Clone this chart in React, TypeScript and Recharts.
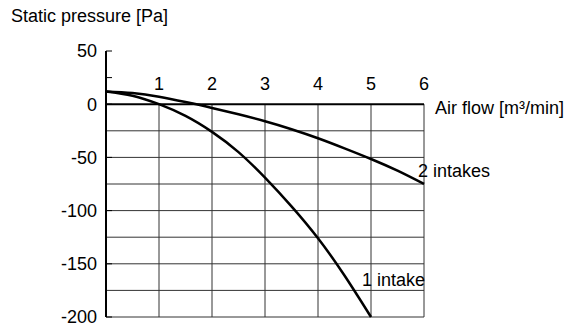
import React from 'react';
import { LineChart, Line, XAxis, YAxis, ReferenceLine, ReferenceDot } from 'recharts';

const xValues = [0, 0.5, 1, 1.5, 2, 2.5, 3, 3.5, 4, 4.5, 5, 5.5, 6];
const oneIntake = [12, 8, 0, -11, -26, -45, -69, -96, -126, -161, -200];
const twoIntakes = [12, 10.5, 7, 2, -3.5, -9.5, -16, -23.5, -32, -41.5, -51.5, -62.5, -75];
const xTicks = [1, 2, 3, 4, 5, 6];
const yTicks = [-200, -150, -100, -50, 0, 25, 50];
const yLabelTicks = [-200, -150, -100, -50, 0, 50];
const gridY = [-25, -50, -75, -100, -125, -150, -175, -200];
const xDomain = [0, 6];
const yDomain = [-200, 50];

const yTitle = 'Static pressure [Pa]';
const xTitle = 'Air flow [m³/min]';
const oneLabel = '1 intake';
const twoLabel = '2 intakes';

const FONT = "'Liberation Sans', Arial, Helvetica, sans-serif";
const FS = 18;
const GRID = '#333';

const data = xValues.map((x, i) => ({ x, one: oneIntake[i], two: twoIntakes[i] }));

export default function App() {
  const xMin = xDomain[0];
  const xMax = xDomain[1];
  const yMin = yDomain[0];
  return (
    <div style={{ position: 'absolute', left: 0, top: 0, width: 570, height: 324, background: '#fff' }}>
      <div style={{ position: 'absolute', left: 11, top: 6, fontFamily: FONT, fontSize: FS, color: '#000', whiteSpace: 'nowrap' }}>
        {yTitle}
      </div>
      <LineChart width={570} height={324} data={data} margin={{ top: 51, right: 146, bottom: 7, left: 0 }}>
        <XAxis dataKey="x" type="number" domain={xDomain} hide />
        <YAxis
          type="number"
          domain={yDomain}
          ticks={yTicks}
          interval={0}
          width={106}
          tickFormatter={(v: number) => (yLabelTicks.includes(v) ? String(v) : '')}
          tick={{ fill: '#000', fontSize: FS, fontFamily: FONT }}
          tickLine={{ stroke: '#000', strokeWidth: 1 }}
          tickSize={-6}
          tickMargin={15}
          axisLine={{ stroke: '#000', strokeWidth: 2 }}
        />
        {gridY.map((y) => (
          <ReferenceLine
            key={'h' + y}
            segment={[{ x: xMin, y }, { x: xMax, y }]}
            stroke={GRID}
            strokeWidth={1}
          />
        ))}
        {xTicks.map((x) => (
          <ReferenceLine
            key={'v' + x}
            segment={[{ x, y: 0 }, { x, y: yMin }]}
            stroke={GRID}
            strokeWidth={1}
            label={{ value: String(x), position: 'top', offset: 14, fill: '#000', fontSize: FS, fontFamily: FONT }}
          />
        ))}
        <ReferenceLine
          segment={[{ x: xMin, y: 0 }, { x: xMax, y: 0 }]}
          stroke="#000"
          strokeWidth={2}
          label={{ value: xTitle, position: 'right', offset: 11, dy: 3, fill: '#000', fontSize: FS, fontFamily: FONT }}
        />
        <Line type="natural" dataKey="two" stroke="#000" strokeWidth={2.5} dot={false} isAnimationActive={false} />
        <Line type="natural" dataKey="one" stroke="#000" strokeWidth={2.5} dot={false} isAnimationActive={false} />
        <ReferenceDot
          x={xValues[xValues.length - 1]}
          y={twoIntakes[twoIntakes.length - 1]}
          r={0}
          fill="none"
          stroke="none"
          label={{ value: twoLabel, position: 'right', offset: 0, dx: -6, dy: -13, fill: '#000', fontSize: FS, fontFamily: FONT }}
        />
        <ReferenceDot
          x={xValues[oneIntake.length - 1]}
          y={oneIntake[oneIntake.length - 1]}
          r={0}
          fill="none"
          stroke="none"
          label={{ value: oneLabel, position: 'right', offset: 0, dx: -9, dy: -37, fill: '#000', fontSize: FS, fontFamily: FONT }}
        />
      </LineChart>
    </div>
  );
}
